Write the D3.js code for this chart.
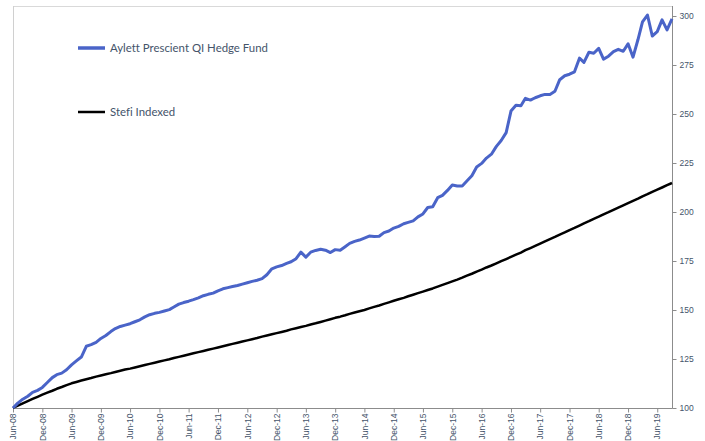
<!DOCTYPE html>
<html><head><meta charset="utf-8">
<script src="https://cdn.jsdelivr.net/npm/d3@7"></script>
<style>body{margin:0;background:#fff}svg{display:block}</style>
</head><body><svg id="chart" width="705" height="441"></svg>
<script>
const seriesNames = ["Aylett Prescient QI Hedge Fund", "Stefi Indexed"];
const firstMonth = "Jun-08";
const lastMonth = "Sep-19";
const xTickLabels = ["Jun-08","Dec-08","Jun-09","Dec-09","Jun-10","Dec-10","Jun-11","Dec-11","Jun-12","Dec-12","Jun-13","Dec-13","Jun-14","Dec-14","Jun-15","Dec-15","Jun-16","Dec-16","Jun-17","Dec-17","Jun-18","Dec-18","Jun-19"];
const yTickValues = [100,125,150,175,200,225,250,275,300];
const aylett = [
100,102.5,104.5,106,108,109,110.5,113,115.5,117,
117.8,119.5,122,124,126,131.5,132.3,133.5,135.5,137,
139,140.5,141.6,142.3,143,144,145,146.5,147.6,148.3,
148.8,149.5,150.2,151.5,153,153.8,154.5,155.3,156.2,157.3,
158,158.6,159.8,160.8,161.4,162,162.5,163.2,163.9,164.6,
165.2,166,168,171,172,172.7,173.8,174.6,176.2,179.5,
177,179.5,180.4,181,180.5,179.3,180.8,180.5,182.3,184,
185,185.7,186.7,187.7,187.5,187.6,189.5,190.3,191.8,192.7,
194,194.7,195.5,197.5,199,202.3,202.7,207.3,208.5,211,
213.8,213.3,213.3,215.8,218.5,223,224.8,227.5,229.5,233.5,
236.5,240.5,251.5,254.5,254.2,258,257.1,258.3,259.3,260,
260,261.6,267.5,269.5,270.3,271.5,278.5,276.3,281.5,281,
283.5,278,279.5,281.8,283,282,285.8,279,288,297,
300.5,289.8,292,298,292.9,298.5];
const stefi = [
100,101.2,102.4,103.5,104.6,105.7,106.8,107.8,108.8,109.8,
110.7,111.7,112.6,113.3,114,114.7,115.3,116,116.6,117.2,
117.8,118.4,119,119.6,120.1,120.7,121.3,121.9,122.5,123.1,
123.7,124.3,124.9,125.5,126.1,126.7,127.3,127.9,128.5,129.1,
129.7,130.3,130.9,131.5,132.1,132.7,133.3,133.9,134.5,135.1,
135.7,136.4,137,137.6,138.2,138.8,139.4,140.1,140.7,141.3,
141.9,142.6,143.2,143.9,144.6,145.3,146,146.6,147.3,148,
148.7,149.4,150,150.8,151.6,152.3,153.1,153.9,154.7,155.5,
156.2,157,157.8,158.6,159.4,160.2,161,161.9,162.8,163.7,
164.6,165.5,166.5,167.5,168.5,169.6,170.6,171.7,172.7,173.8,
174.9,176,177.1,178.2,179.3,180.5,181.6,182.7,183.9,185,
186.2,187.3,188.5,189.6,190.8,191.9,193.1,194.2,195.3,196.5,
197.6,198.8,199.9,201.1,202.2,203.4,204.5,205.7,206.8,208,
209.1,210.3,211.4,212.5,213.7,214.8];
const seriesColors = ["#4A64C8", "#000000"];

const parse = d3.timeParse("%b-%y");
const fmt = d3.timeFormat("%b-%y");
const months = d3.timeMonth.range(parse(firstMonth), d3.timeMonth.offset(parse(lastMonth), 1));

const svg = d3.select("#chart");
const L = 13, R = 672, T = 6, B = 408;
const x = d3.scaleTime().domain([months[0], months[months.length - 1]]).range([L, R]);
const y = d3.scaleLinear().domain([100, 300]).range([B, 16]);
const labelColor = "#44546A";

// plot border (top, left)
svg.append("line").attr("x1", L).attr("x2", R).attr("y1", T + 0.5).attr("y2", T + 0.5).attr("stroke", "#D9D9D9");
svg.append("line").attr("x1", L + 0.5).attr("x2", L + 0.5).attr("y1", T).attr("y2", B).attr("stroke", "#D0D0D0");

// right axis
const yAxis = svg.append("g").attr("transform", `translate(${R + 0.5},0)`)
  .call(d3.axisRight(y).tickValues(yTickValues).tickSize(4).tickPadding(3).tickFormat(d3.format("d")));
yAxis.select(".domain").attr("d", `M0,${T}V${B + 0.5}`).attr("stroke", "#8C8C8C");
yAxis.selectAll(".tick line").attr("stroke", "#8C8C8C");
yAxis.selectAll("text").attr("fill", labelColor).style("font-family", "Liberation Sans, Arial, sans-serif").style("font-size", "8.5px");

// bottom axis
const xTicks = xTickLabels.map(parse);
const xAxis = svg.append("g").attr("transform", `translate(0,${B + 0.5})`)
  .call(d3.axisBottom(x).tickValues(xTicks).tickSize(4).tickFormat(fmt));
xAxis.select(".domain").attr("d", `M${L},0H${R + 0.5}`).attr("stroke", "#8C8C8C");
xAxis.selectAll(".tick line").attr("stroke", "#8C8C8C");
xAxis.selectAll("text")
  .attr("fill", labelColor)
  .style("font-family", "Liberation Sans, Arial, sans-serif").style("font-size", "8.5px")
  .attr("text-anchor", "end").attr("dy", "0.32em")
  .attr("transform", "translate(0,5) rotate(-90)")
  .attr("x", 0).attr("y", 0);

// lines
const line = d3.line().x((d, i) => x(months[i])).y(d => y(d));
svg.append("path").datum(stefi).attr("d", line).attr("fill", "none")
  .attr("stroke", seriesColors[1]).attr("stroke-width", 2.5).attr("stroke-linejoin", "round");
svg.append("path").datum(aylett).attr("d", line).attr("fill", "none")
  .attr("stroke", seriesColors[0]).attr("stroke-width", 3).attr("stroke-linejoin", "round");

// legend
const legendY = [48, 112];
seriesNames.forEach((name, i) => {
  const g = svg.append("g").attr("transform", `translate(78,${legendY[i]})`);
  g.append("line").attr("x1", 0).attr("x2", 27).attr("stroke", seriesColors[i]).attr("stroke-width", i === 0 ? 3.5 : 2.5);
  g.append("text").attr("x", 32).attr("dy", "0.35em").text(name)
    .attr("fill", labelColor)
    .style("font-family", "Lato, sans-serif").style("font-size", "11.4px")
    .style("font-variant-ligatures", "none");
});
</script></body></html>
